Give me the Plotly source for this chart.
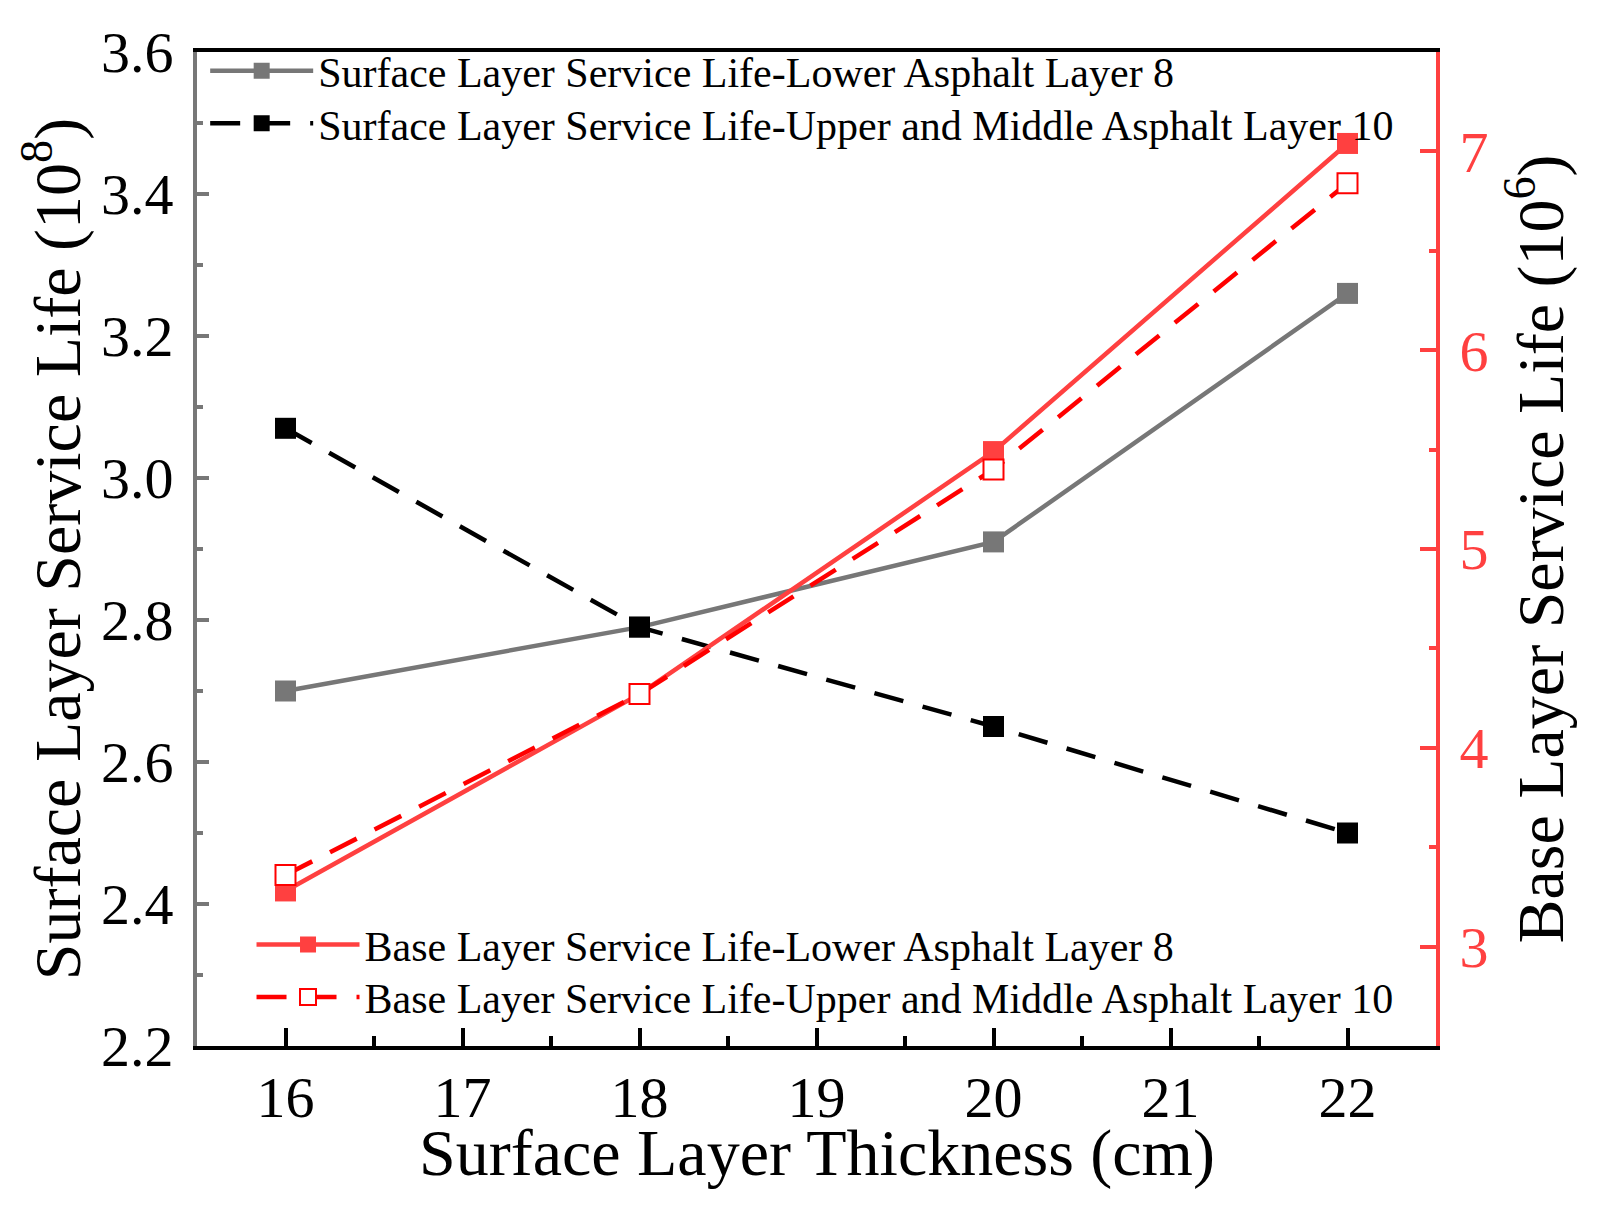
import plotly.graph_objects as go

# espesor de la capa superficial (cm)
thickness = [16, 18, 20, 22]

# vida de servicio capa superficial (10^8)
surf_lower8 = [2.70, 2.79, 2.91, 3.26]
surf_upper10 = [3.07, 2.79, 2.65, 2.50]

# vida de servicio capa base (10^6)
base_lower8 = [3.28, 4.27, 5.49, 7.04]
base_upper10 = [3.36, 4.27, 5.40, 6.84]

FONT = "Liberation Serif"
GRAY = "#777777"
RED = "#FF4040"

fig = go.Figure()

fig.add_trace(go.Scatter(x=thickness, y=surf_lower8, mode="lines+markers",
                         name="Surface Layer Service Life-Lower Asphalt Layer 8",
                         line=dict(color=GRAY, width=4.5),
                         marker=dict(symbol="square", size=21, color=GRAY),
                         legend="legend"))
fig.add_trace(go.Scatter(x=thickness, y=surf_upper10, mode="lines+markers",
                         name="Surface Layer Service Life-Upper and Middle Asphalt Layer 10",
                         line=dict(color="black", width=4.5, dash="30px,20px"),
                         marker=dict(symbol="square", size=21, color="black"),
                         legend="legend2"))
fig.add_trace(go.Scatter(x=thickness, y=base_lower8, mode="lines+markers",
                         name="Base Layer Service Life-Lower Asphalt Layer 8",
                         line=dict(color=RED, width=4.5),
                         marker=dict(symbol="square", size=21, color=RED),
                         yaxis="y2", legend="legend3"))
fig.add_trace(go.Scatter(x=thickness, y=base_upper10, mode="lines+markers",
                         name="Base Layer Service Life-Upper and Middle Asphalt Layer 10",
                         line=dict(color="#FF0000", width=4.5, dash="30px,20px"),
                         marker=dict(symbol="square", size=20, color="white",
                                     line=dict(color="#FF0000", width=2)),
                         yaxis="y2", legend="legend4"))

leg = dict(xanchor="left", yanchor="middle", bgcolor="rgba(0,0,0,0)",
           font=dict(size=42), itemwidth=103)

fig.update_layout(
    width=1603, height=1210,
    margin=dict(l=189, r=175, t=44, b=172, autoexpand=False),
    plot_bgcolor="white", paper_bgcolor="white",
    font=dict(family=FONT, color="black", size=40),
    showlegend=True,
    xaxis=dict(range=[15.5, 22.5], dtick=1, showgrid=False, zeroline=False, automargin=False,
               showline=True, linecolor="black", linewidth=4, mirror=True,
               ticks="inside", ticklen=18, tickwidth=4, tickcolor="black",
               minor=dict(dtick=0.5, ticks="inside", ticklen=10, tickwidth=4, tickcolor="black"),
               tickfont=dict(size=58), ticklabelstandoff=-3),
    yaxis=dict(range=[2.2, 3.6], dtick=0.2, tickformat=".1f", showgrid=False, zeroline=False,
               automargin=False,
               showline=True, linecolor=GRAY, linewidth=4,
               ticks="inside", ticklen=12, tickwidth=4, tickcolor=GRAY,
               minor=dict(dtick=0.1, ticks="inside", ticklen=6, tickwidth=4, tickcolor=GRAY),
               tickfont=dict(size=58), ticklabelstandoff=8,
               title=dict(text="Surface Layer Service Life (10<sup>8</sup>)", font=dict(size=66), standoff=0)),
    yaxis2=dict(range=[2.5, 7.5], dtick=1, overlaying="y", side="right", showgrid=False, zeroline=False,
                automargin=False,
                showline=True, linecolor=RED, linewidth=4,
                ticks="inside", ticklen=16, tickwidth=4, tickcolor=RED,
                minor=dict(dtick=0.5, ticks="inside", ticklen=7, tickwidth=4, tickcolor=RED),
                tickfont=dict(size=58, color=RED), ticklabelstandoff=8,
                title=dict(text="Base Layer Service Life (10<sup>6</sup>)", font=dict(size=66, color="black"), standoff=30)),
    legend=dict(leg, x=0.0066, y=0.981),
    legend2=dict(leg, x=0.0066, y=0.928),
    legend3=dict(leg, x=0.044, y=0.102),
    legend4=dict(leg, x=0.044, y=0.049),
)

# titulo del eje x como anotacion para acercarlo a los ticks
fig.add_annotation(text="Surface Layer Thickness (cm)", xref="paper", yref="paper",
                   x=0.5, y=-0.1075, xanchor="center", yanchor="middle",
                   showarrow=False, font=dict(size=66))

fig.write_html("out.html")
